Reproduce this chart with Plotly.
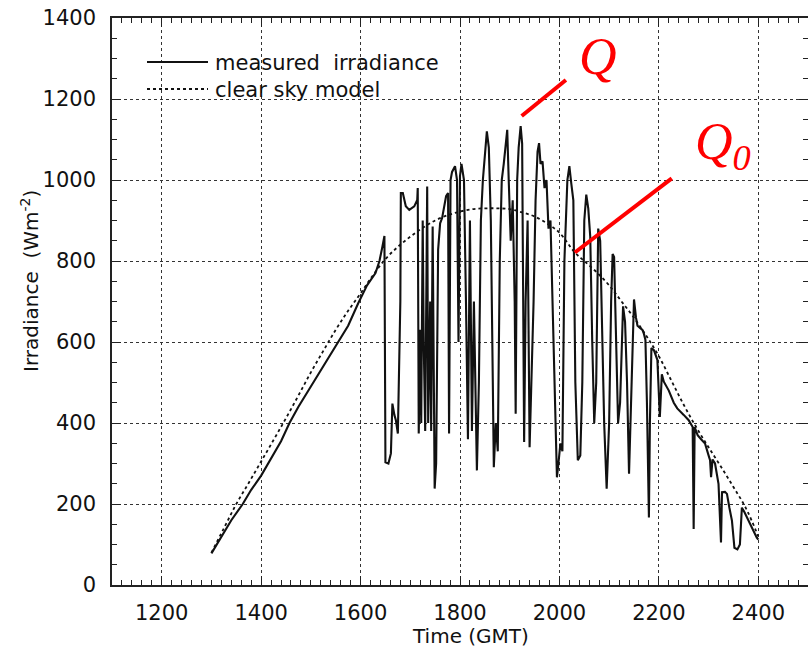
import plotly.graph_objects as go

# ---------------- data ----------------
measured_time = [
    1300, 1320, 1340, 1363, 1380, 1400, 1420, 1440, 1457, 1475, 1500, 1520, 1540, 1556,
    1575, 1595, 1613, 1630, 1638, 1644, 1648, 1650, 1656, 1661, 1664, 1668, 1671, 1675,
    1680, 1681, 1685, 1691, 1698, 1708, 1714, 1715, 1717, 1720, 1722, 1725, 1727, 1730,
    1734, 1736, 1740, 1742, 1745, 1749, 1752, 1756, 1760, 1764, 1768, 1772, 1776, 1778,
    1781, 1784, 1790, 1794, 1797, 1800, 1803, 1808, 1812, 1816, 1820, 1824, 1828, 1834,
    1838, 1842, 1846, 1850, 1854, 1858, 1862, 1866, 1868, 1872, 1876, 1880, 1884, 1888,
    1892, 1895, 1898, 1902, 1906, 1910, 1912, 1915, 1918, 1922, 1925, 1929, 1932, 1936,
    1940, 1944, 1948, 1952, 1956, 1959, 1962, 1966, 1970, 1974, 1978, 1982, 1986, 1990,
    1995, 1998, 2002, 2006, 2010, 2016, 2020, 2024, 2028, 2032, 2037, 2042, 2046, 2050,
    2054, 2058, 2062, 2066, 2070, 2074, 2078, 2082, 2086, 2090, 2095, 2100, 2104, 2107,
    2110, 2114, 2118, 2122, 2128, 2132, 2136, 2140, 2144, 2150, 2154, 2157, 2162, 2167,
    2170, 2173, 2176, 2180, 2182, 2185, 2190, 2197, 2202, 2206, 2210, 2220, 2230, 2237,
    2250, 2260, 2268, 2270, 2272, 2278, 2285, 2293, 2300, 2303, 2305, 2308, 2313, 2320,
    2325, 2327, 2333, 2337, 2342, 2347, 2352, 2358, 2363, 2367, 2372, 2377, 2385, 2392,
    2397, 2400,
]
measured_value = [
    78, 120, 160, 200, 235, 270, 312, 355, 400, 440, 490, 530, 570, 600,
    640, 695, 740, 770, 800, 836, 862, 303, 300, 325, 448, 420, 407, 374,
    700, 968, 968, 935, 926, 935, 951, 980, 374, 630, 400, 900, 600, 380,
    984, 400, 700, 380, 885, 238, 300, 828, 893, 906, 930, 960, 968, 374,
    1000, 1020, 1034, 1000, 600, 1010, 1040, 1000, 700, 360, 900, 380, 700, 283,
    500, 900, 1000, 1060, 1120, 1080, 900, 500, 291, 400, 330, 800, 1000, 1040,
    1100, 1124, 1000, 850, 950, 700, 423, 1000, 1080, 1133, 1090, 353, 700, 900,
    340, 500, 700, 950, 1070, 1091, 1040, 1046, 980, 1000, 880, 900, 700, 500,
    266, 300, 350, 330, 800, 1000, 1034, 990, 950, 500, 308, 320, 500, 900,
    964, 930, 860, 600, 400, 500, 880, 850, 600, 400, 238, 400, 700, 817,
    810, 600, 400, 450, 688, 650, 500, 275, 450, 705, 660, 640, 635, 630,
    620, 605, 450, 167, 400, 585, 580, 556, 415, 520, 502, 480, 450, 436,
    420, 407, 390, 138, 390, 370, 360, 349, 320, 308, 266, 310, 300, 250,
    105, 229, 230, 225, 190, 159, 92, 88, 100, 191, 180, 167, 150, 130,
    117, 112,
]

clear_time = [1300, 1325, 1350, 1375, 1400, 1425, 1450, 1475, 1500, 1525, 1550, 1575,
              1600, 1625, 1650, 1675, 1700, 1725, 1750, 1775, 1800, 1825, 1850, 1875,
              1900, 1925, 1950, 1975, 2000, 2031, 2050, 2075, 2100, 2125, 2150, 2175,
              2200, 2225, 2250, 2275, 2300, 2325, 2350, 2375, 2400]
clear_value = [80, 140, 200, 252, 305, 358, 412, 468, 525, 578, 630, 677,
               720, 765, 805, 835, 860, 882, 900, 913, 922, 928, 930, 930,
               928, 920, 910, 893, 870, 821, 800, 772, 740, 700, 660, 615,
               565, 505, 445, 390, 340, 292, 242, 190, 120]

x_ticks = [1200, 1400, 1600, 1800, 2000, 2200, 2400]
y_ticks = [0, 200, 400, 600, 800, 1000, 1200, 1400]

legend_labels = ["measured  irradiance", "clear sky model"]
q_label = "Q"
q0_label = "Q<sub>0</sub>"
x_title = "Time (GMT)"
y_title = "Irradiance  (Wm<sup>-2</sup>)"

# ---------------- figure ----------------
W, H = 808, 651
PLOT_L, PLOT_R, PLOT_T, PLOT_B = 112, 808, 18, 585   # plot box in window pixels
L, T, R, B = PLOT_L, PLOT_T, W - PLOT_R, H - PLOT_B
PW, PH = PLOT_R - PLOT_L, PLOT_B - PLOT_T


def px(xp):
    return (xp - PLOT_L) / PW


def py(yp):
    return (PLOT_B - yp) / PH


fig = go.Figure()
fig.add_trace(go.Scatter(x=clear_time, y=clear_value, mode="lines", name=legend_labels[1],
                         line=dict(color="#111", width=1.8, dash="dot", shape="spline"),
                         showlegend=False))
fig.add_trace(go.Scatter(x=measured_time, y=measured_value, mode="lines", name=legend_labels[0],
                         line=dict(color="#111", width=2.1), showlegend=False))

tickfont = dict(family="DejaVu Sans", size=21, color="#111")
axis_common = dict(showline=True, linecolor="#222", linewidth=1.5, mirror="ticks",
                   ticks="inside", ticklen=9, tickwidth=1.3, tickcolor="#222",
                   showgrid=True, gridcolor="#333", griddash="dot", gridwidth=1,
                   zeroline=False, tickfont=tickfont, automargin=False,
                   ticklabeloverflow="allow")

fig.update_xaxes(range=[1100, 2500], tickvals=x_ticks, ticktext=[str(v) for v in x_ticks],
                 minor=dict(dtick=20, tick0=1100, ticks="inside", ticklen=5, tickcolor="#222",
                            showgrid=False),
                 ticklabelstandoff=8, **axis_common)
fig.update_yaxes(range=[0, 1400], tickvals=y_ticks, ticktext=[str(v) for v in y_ticks],
                 minor=dict(dtick=50, tick0=0, ticks="inside", ticklen=5, tickcolor="#222",
                            showgrid=False),
                 ticklabelstandoff=10, **axis_common)

shapes = []
annotations = []

# legend (line samples + labels)
shapes.append(dict(type="line", xref="paper", yref="paper", x0=px(147), x1=px(208),
                   y0=py(62), y1=py(62), line=dict(color="#111", width=2)))
shapes.append(dict(type="line", xref="paper", yref="paper", x0=px(147), x1=px(208),
                   y0=py(89), y1=py(89), line=dict(color="#111", width=1.8, dash="dot")))
legfont = dict(family="DejaVu Sans", size=21, color="#111")
annotations.append(dict(text=legend_labels[0], xref="paper", yref="paper", x=px(213), y=py(63),
                        xanchor="left", yanchor="middle", showarrow=False, font=legfont))
annotations.append(dict(text=legend_labels[1], xref="paper", yref="paper", x=px(213), y=py(90),
                        xanchor="left", yanchor="middle", showarrow=False, font=legfont))

# axis titles
titlefont = dict(family="DejaVu Sans", size=20, color="#111")
annotations.append(dict(text=x_title, xref="paper", yref="paper", x=px(470), y=py(636),
                        xanchor="center", yanchor="middle", showarrow=False, font=titlefont))
annotations.append(dict(text=y_title, xref="paper", yref="paper", x=px(30), y=py(281),
                        xanchor="center", yanchor="middle", showarrow=False, font=titlefont,
                        textangle=-90))

# red Q / Q0 markers
red = "#ff0000"
shapes.append(dict(type="line", xref="x", yref="y", x0=1924, y0=1158, x1=2013, y1=1247,
                   line=dict(color=red, width=4)))
shapes.append(dict(type="line", xref="x", yref="y", x0=2031, y0=821, x1=2226, y1=1004,
                   line=dict(color=red, width=4)))
qfont = dict(family="Liberation Serif", size=52, color=red)
annotations.append(dict(text="<i>" + q_label + "</i>", xref="x", yref="y", x=2078, y=1305,
                        xanchor="center", yanchor="middle", showarrow=False, font=qfont))
annotations.append(dict(text="<i>" + q0_label + "</i>", xref="x", yref="y", x=2330, y=1085,
                        xanchor="center", yanchor="middle", showarrow=False, font=qfont))

fig.update_layout(width=W, height=H, margin=dict(l=L, r=R, t=T, b=B),
                  paper_bgcolor="white", plot_bgcolor="white",
                  shapes=shapes, annotations=annotations, showlegend=False)

# remove the default 8px page margin so the figure sits at the window origin
fig.write_html("out.html", config={"displayModeBar": False},
               post_script="document.body.style.margin='0';")
